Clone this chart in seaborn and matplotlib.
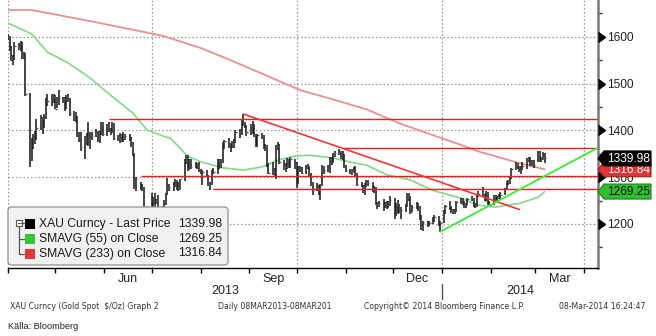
import numpy as np
import pandas as pd
import matplotlib
matplotlib.use("Agg")
import matplotlib.pyplot as plt
import matplotlib.dates as mdates
import matplotlib.transforms as mtransforms
from matplotlib.patches import FancyBboxPatch, Polygon, Rectangle
from matplotlib.lines import Line2D
from matplotlib.markers import CARETRIGHTBASE
from matplotlib import font_manager
import seaborn as sns

# ---------------- data ----------------
first_day, last_day = "2013-04-01", "2014-03-07"
closed_days = ["2013-12-25", "2014-01-01"]

closes = [
    1600,1575,1553,1556,1580,1575,1585,1558,1564,1477,1349,1368,1377,1393,1406,1425,1409,1432,1463,1463,1474,1472,
    1446,1467,1470,1467,1451,1473,1468,1437,1434,1426,1388,1386,1365,1384,1378,1368,1392,1387,1393,1379,1392,1413,1393,
    1412,1398,1398,1413,1383,1386,1378,1390,1389,1388,1382,1367,1350,1277,1297,1277,1275,1230,1210,1234,
    1254,1243,1250,1251,1222,1235,1246,1263,1279,1278,1284,1291,1277,1277,1295,1335,1347,1320,1334,1322,1328,1324,1313,
    1310,1311,1302,1283,1286,1310,1312,1334,1322,1336,1372,1377,1365,1372,1370,1378,1396,1393,1420,1418,1411,1396,
    1412,1412,1390,1367,1391,1387,1363,1367,1330,1308,1314,1309,1365,1367,1333,1322,1321,1336,1324,1338,1327,
    1286,1318,1316,1309,1324,1323,1306,1286,1272,1276,1272,1283,1322,1316,1316,1339,1333,1349,1352,1354,1345,1345,1323,
    1315,1315,1311,1318,1308,1286,1280,1270,1284,1287,1288,1273,1275,1243,1243,1244,1241,1242,1237,1245,1251,
    1221,1243,1241,1226,1230,1240,1260,1257,1225,1236,1240,1231,1215,1193,1204,1197,1203,1212,1214,1205,1202,
    1225,1238,1238,1229,1225,1229,1247,1253,1245,1242,1241,1254,1255,1242,1239,1262,1265,1263,1250,1268,1243,1240,
    1260,1252,1257,1256,1262,1274,1289,1291,1300,1318,1328,1321,1313,1319,1323,1338,1342,1327,1332,1326,
    1350,1337,1340,1352,1339.98]

highs = [
    1606,1602,1580,1561,1588,1586,1590,1588,1568,1565,1480,1383,1392,1398,1424,1433,1428,1435,1470,1477,1478,1477,
    1476,1472,1487,1471,1471,1475,1478,1470,1441,1440,1430,1397,1396,1387,1395,1417,1397,1396,1403,1398,1398,1417,1418,
    1414,1417,1404,1417,1415,1389,1394,1393,1396,1393,1393,1386,1375,1352,1300,1290,1285,1280,1234,1239,
    1267,1257,1267,1254,1262,1239,1251,1267,1298,1286,1290,1296,1294,1289,1297,1338,1348,1347,1338,1338,1333,1330,1332,
    1318,1315,1315,1305,1289,1316,1320,1338,1338,1338,1375,1380,1384,1374,1377,1381,1400,1402,1423,1434,1418,1412,
    1414,1420,1413,1393,1392,1394,1390,1371,1369,1330,1332,1320,1368,1375,1371,1336,1330,1341,1339,1342,1339,
    1332,1324,1323,1321,1326,1328,1324,1309,1289,1288,1284,1286,1325,1323,1327,1342,1344,1352,1355,1361,1356,1355,1349,
    1325,1318,1317,1321,1323,1309,1290,1284,1287,1293,1294,1290,1282,1278,1247,1250,1253,1247,1248,1248,1259,
    1255,1244,1251,1243,1237,1243,1266,1267,1259,1240,1247,1244,1238,1220,1206,1207,1207,1215,1219,1218,1206,
    1230,1240,1248,1239,1232,1232,1250,1256,1255,1249,1245,1255,1259,1255,1244,1264,1270,1280,1265,1270,1268,1250,
    1262,1262,1260,1265,1268,1276,1291,1294,1302,1320,1332,1331,1324,1323,1332,1340,1344,1343,1337,1336,
    1355,1355,1342,1354,1352]

lows = [
    1592,1570,1548,1539,1550,1571,1570,1553,1553,1474,1321,1335,1360,1370,1380,1401,1393,1405,1424,1452,1453,1459,
    1445,1447,1455,1458,1442,1446,1460,1430,1420,1418,1385,1375,1355,1338,1368,1367,1360,1380,1386,1375,1373,1389,1388,
    1387,1396,1390,1394,1380,1377,1372,1375,1375,1380,1378,1364,1345,1275,1270,1272,1270,1222,1198,1180,
    1221,1236,1225,1242,1207,1217,1231,1241,1262,1271,1270,1278,1272,1271,1272,1291,1328,1313,1316,1318,1319,1317,1311,
    1306,1283,1300,1281,1273,1283,1307,1307,1318,1319,1330,1360,1363,1354,1362,1362,1372,1384,1391,1410,1406,1388,
    1391,1392,1386,1364,1364,1381,1361,1355,1321,1307,1304,1301,1295,1359,1329,1316,1310,1317,1320,1320,1318,
    1277,1286,1311,1306,1307,1318,1301,1282,1262,1270,1262,1251,1281,1306,1310,1308,1326,1330,1344,1348,1339,1336,1320,
    1311,1306,1305,1310,1302,1281,1279,1266,1262,1280,1281,1269,1266,1241,1233,1236,1227,1235,1233,1235,1238,
    1211,1217,1221,1223,1211,1226,1237,1250,1222,1225,1233,1227,1209,1187,1185,1193,1195,1200,1204,1195,1182,
    1202,1222,1229,1223,1221,1222,1226,1242,1241,1235,1235,1240,1250,1237,1235,1237,1257,1260,1248,1250,1240,1238,
    1240,1248,1248,1253,1251,1262,1273,1284,1286,1297,1316,1318,1310,1306,1316,1318,1332,1323,1323,1319,
    1332,1333,1333,1336,1330]

sma233_dates = ["2013-04-01","2013-04-16","2013-05-22","2013-07-08","2013-08-01","2013-08-20","2013-10-03",
                "2013-10-24","2013-11-14","2013-12-05","2013-12-26","2014-01-13","2014-01-24","2014-02-19","2014-03-07"]
sma233_vals = [1657,1657,1634,1602,1576,1550,1486,1466,1445,1415,1390,1369,1355,1330,1316.84]

sma55_dates = ["2013-04-01","2013-04-16","2013-04-26","2013-05-09","2013-05-23","2013-06-05","2013-06-19",
               "2013-06-28","2013-07-08","2013-07-13","2013-07-24","2013-08-02","2013-08-15","2013-08-28",
               "2013-09-09","2013-09-20","2013-09-30","2013-10-09","2013-10-24","2013-11-04","2013-11-14",
               "2013-11-27","2013-12-12","2013-12-26","2014-01-13","2014-01-24","2014-02-04","2014-02-19",
               "2014-03-03","2014-03-07"]
sma55_vals = [1629,1606,1567,1544,1512,1475,1437,1401,1388,1383,1344,1332,1320,1315,1322,1337,1345,1347,
              1341,1332,1326,1305,1294,1272,1255,1240,1236,1244,1257,1269.25]

level_values = [1423.5, 1363, 1302.5, 1274]
level_starts = ["2013-06-04", "2013-10-30", "2013-06-24", "2013-08-09"]

down_trend_dates = ["2013-08-28 00:00", "2014-02-19 00:00"]
down_trend_vals = [1435, 1231]
up_trend_dates = ["2013-12-31 00:00", "2014-04-09 20:00"]
up_trend_vals = [1183.5, 1363]

last_values = {"XAU Curncy - Last Price": 1339.98, "SMAVG (55) on Close": 1269.25, "SMAVG (233) on Close": 1316.84}

y_ticks = [1200, 1300, 1400, 1500, 1600]
y_minor = [1150, 1250, 1350, 1450, 1550, 1650]
month_labels = ["Jun", "Sep", "Dec", "Mar"]
month_label_starts = ["2013-06-01", "2013-09-01", "2013-12-01", "2014-03-01"]
quarter_grid = ["2013-04-01", "2013-07-01", "2013-10-01", "2014-01-01", "2014-04-01"]
year_labels = ["2013", "2014"]

# ---------------- style ----------------
sns.set_style("white")
fams = {f.name for f in font_manager.fontManager.ttflist}
main_font = ["Liberation Sans", "DejaVu Sans"]
plt.rcParams["font.family"] = main_font
narrow = "Liberation Sans Narrow" if "Liberation Sans Narrow" in fams else None

W, H = 656, 336
fig = plt.figure(figsize=(W / 100, H / 100), dpi=100)
fig.patch.set_facecolor("white")
ax_bottom_px = 268.3
ax = fig.add_axes([8 / W, (H - ax_bottom_px) / H, 590 / W, ax_bottom_px / H])
ax.set_facecolor("white")


def d2n(s):
    return mdates.date2num(pd.to_datetime(s, format="mixed"))


dates = pd.bdate_range(first_day, last_day)
dates = dates[~dates.isin(pd.to_datetime(closed_days))]
assert len(dates) == len(closes) == len(highs) == len(lows), (len(dates), len(closes), len(highs), len(lows))
x = mdates.date2num(dates)

xmin = d2n("2013-04-01")
xmax = d2n("2014-04-01") + 8.85
ymin, ymax = 1105.3, 1678.4

# price bars
ax.vlines(x, lows, highs, color="#141414", lw=1.1, zorder=4)
ax.hlines(closes, x, x + 0.9, color="#5a5a5a", lw=1.0, zorder=4)

# moving averages via seaborn
df233 = pd.DataFrame({"x": d2n(sma233_dates), "v": sma233_vals})
df55 = pd.DataFrame({"x": d2n(sma55_dates), "v": sma55_vals})
sns.lineplot(data=df233, x="x", y="v", ax=ax, color="#ec8f8f", lw=1.3, zorder=3)
sns.lineplot(data=df55, x="x", y="v", ax=ax, color="#84d984", lw=1.2, zorder=3)

# support / resistance levels
ax.hlines(level_values, d2n(level_starts), xmax, color="#ee1c1c", lw=1.0, zorder=5)

# trend lines
dfd = pd.DataFrame({"x": d2n(down_trend_dates), "v": down_trend_vals})
dfu = pd.DataFrame({"x": d2n(up_trend_dates), "v": up_trend_vals})
sns.lineplot(data=dfd, x="x", y="v", ax=ax, color="#ff2a2a", lw=1.15, zorder=5)
sns.lineplot(data=dfu, x="x", y="v", ax=ax, color="#3cee3c", lw=1.35, zorder=5)

ax.set_xlim(xmin, xmax)
ax.set_ylim(ymin, ymax)
ax.set_xlabel("")
ax.set_ylabel("")

# grid
grid_kw = dict(color="#9c9c9c", lw=0.9, ls=(0, (1.3, 1.7)), zorder=1)
for g in quarter_grid:
    ax.axvline(d2n(g), **grid_kw)
for yt in y_ticks:
    ax.axhline(yt, **grid_kw)

# spines
for s in ("top", "left"):
    ax.spines[s].set_visible(False)
ax.spines["bottom"].set_color("black")
ax.spines["bottom"].set_linewidth(1.0)
ax.spines["right"].set_color("#7a7a7a")
ax.spines["right"].set_linewidth(1.8)

# x ticks
month_starts = pd.date_range("2013-04-01", "2014-04-01", freq="MS")
ax.set_xticks(mdates.date2num(month_starts))
ax.set_xticklabels([""] * len(month_starts))
mids = []
for s in month_label_starts:
    a = pd.Timestamp(s)
    b = a + pd.offsets.MonthBegin(1)
    mids.append((mdates.date2num(a) + mdates.date2num(b)) / 2)
ax.set_xticks(mids, minor=True)
ax.set_xticklabels(month_labels, minor=True)
ax.tick_params(axis="x", which="major", bottom=True, top=False, direction="out",
               length=3.5, width=1, color="black")
ax.tick_params(axis="x", which="minor", bottom=True, top=False, length=0, pad=3.2,
               labelsize=9, labelcolor="#222")

# y ticks on right
ax.yaxis.tick_right()
ax.set_yticks(y_ticks)
ax.set_yticklabels([str(v) for v in y_ticks])
ax.set_yticks(y_minor, minor=True)
ax.tick_params(axis="y", which="major", left=False, right=True, labelleft=False, labelright=True,
               length=0, pad=6.4, labelsize=8.6, labelcolor="#222")
ax.tick_params(axis="y", which="minor", left=False, right=True, direction="out",
               length=2.6, width=1, color="#333")
ax.plot(np.ones(len(y_ticks)), y_ticks, ls="none", marker=CARETRIGHTBASE, ms=6.5,
        color="black", transform=ax.get_yaxis_transform(), clip_on=False, zorder=6)

# year row
trans = mtransforms.blended_transform_factory(ax.transData, fig.transFigure)
jan1 = d2n("2014-01-01")
year_centers = [(xmin + jan1) / 2, (jan1 + xmax) / 2]
for lab, xc in zip(year_labels, year_centers):
    fig.text(xc, (H - 290.5) / H, lab, transform=trans, ha="center", va="center",
             fontsize=9, color="#222")
fig.add_artist(Line2D([jan1, jan1], [(H - 283.5) / H, (H - 298.5) / H], transform=trans,
                      color="#555", lw=1.0))

ident = mtransforms.IdentityTransform()


# last value tags on the right axis
def ypix(v):
    return ax.transData.transform((xmin, v))[1]


def tag(v, fc, tc, ec, z):
    yc = ypix(v)
    hh = 7.5
    pts = [(598, yc), (604, yc + hh), (651, yc + hh), (651, yc - hh), (604, yc - hh)]
    fig.add_artist(Polygon(pts, closed=True, fc=fc, ec=ec, lw=0.8, transform=ident, zorder=z))
    fig.text(607, yc - 0.3, f"{v:.2f}", transform=ident, ha="left", va="center",
             fontsize=8.6, color=tc, zorder=z + 0.5)


tag(last_values["SMAVG (55) on Close"], "#2fbf2f", "#101010", "#1f7f1f", 10)
tag(last_values["SMAVG (233) on Close"], "#e03434", "white", "#a02020", 11)
tag(last_values["XAU Curncy - Last Price"], "#050505", "white", "#050505", 12)

# legend box
fig.add_artist(FancyBboxPatch((8, H - 265), 220, 58, boxstyle="round,pad=0,rounding_size=4",
                              fc="#f1f1f1", ec="#9a9a9a", lw=1.0, transform=ident, zorder=20))
legend_colors = ["#000000", "#36c536", "#e03838"]
rows_y = [224, 239, 253.5]
for (name, val), col, ry in zip(last_values.items(), legend_colors, rows_y):
    fig.add_artist(Rectangle((25, H - ry - 5), 10, 10, fc=col, ec="none", transform=ident, zorder=21))
    fig.text(39, H - ry, name, transform=ident, ha="left", va="center", fontsize=8.7, color="#1a1a1a", zorder=22)
    fig.text(222, H - ry, f"{val:.2f}", transform=ident, ha="right", va="center", fontsize=8.7,
             color="#1a1a1a", zorder=22)
# tree icon
fig.add_artist(Rectangle((16, H - 225.5), 6, 6, fc="white", ec="#555", lw=0.8, transform=ident, zorder=21))
fig.add_artist(Line2D([17.5, 20.5], [H - 222.5, H - 222.5], color="#555", lw=0.8, transform=ident, zorder=22))
fig.add_artist(Line2D([22, 24.5], [H - 222.5, H - 222.5], color="#555", lw=0.8, transform=ident, zorder=22))
fig.add_artist(Line2D([19, 19], [H - 225.5, H - 253.5], color="#555", lw=0.9, transform=ident, zorder=22))
for ry in rows_y[1:]:
    fig.add_artist(Line2D([19, 23.5], [H - ry, H - ry], color="#555", lw=0.9, transform=ident, zorder=22))

# footer
footer = [(10, "XAU Curncy (Gold Spot  $/Oz) Graph 2"), (218, "Daily 08MAR2013-08MAR201"),
          (364, "Copyright\u00a9 2014 Bloomberg Finance L.P."), (559, "08-Mar-2014 16:24:47")]
for fx, s in footer:
    fig.text(fx, H - 306.7, s, transform=ident, ha="left", va="center", fontsize=5.6,
             family=["DejaVu Sans"], color="#333")

if narrow:
    fig.text(8, H - 326.5, "K\u00e4lla: Bloomberg", transform=ident, ha="left", va="center",
             fontsize=7.7, family=[narrow], color="#222")
else:
    fig.text(8, H - 326.5, "K\u00e4lla: Bloomberg", transform=ident, ha="left", va="center",
             fontsize=6.6, family=main_font, color="#222")

fig.savefig("out.png", dpi=100)
